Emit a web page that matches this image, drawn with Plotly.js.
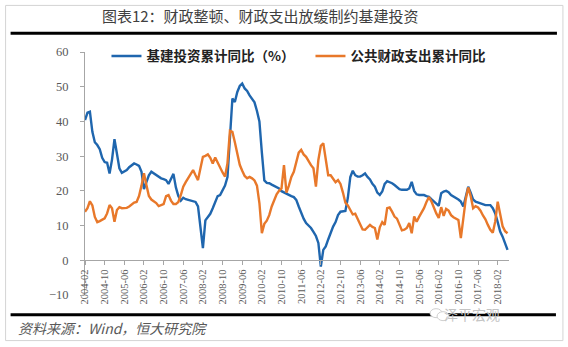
<!DOCTYPE html>
<html>
<head>
<meta charset="utf-8">
<script src="https://cdn.plot.ly/plotly-3.0.1.min.js"></script>
<style>html,body{margin:0;padding:0;background:#fff;}#chart{width:568px;height:347px;}</style>
</head>
<body>
<div id="chart"></div>
<script>
// Monthly categories 2004-02 .. 2018-06
const startYear = 2004, startMonth = 2, endYear = 2018, endMonth = 6;
const months = [];
for (let y = startYear, m = startMonth; y < endYear || (y === endYear && m <= endMonth); ) {
  months.push(y + '-' + String(m).padStart(2, '0'));
  m++; if (m > 12) { m = 1; y++; }
}

const tickLabels = ['2004-02','2004-10','2005-06','2006-02','2006-10','2007-06','2008-02','2008-10',
  '2009-06','2010-02','2010-10','2011-06','2012-02','2012-10','2013-06','2014-02','2014-10',
  '2015-06','2016-02','2016-10','2017-06','2018-02'];

const infraName = '基建投资累计同比（%）';
const fiscalName = '公共财政支出累计同比';

// 基建投资累计同比（%）
const infraYoY = [
  40.4,42.5,42.8,37,34,33.2,32,29.5,28.3,28.1,
  25,29,34.9,30,26.5,25.2,25.5,26,26.8,27.4,
  27.9,27.6,27.2,25.5,20.5,22.5,24.5,25.5,25,24.6,
  24,23.6,23.4,23.1,22,23.5,24.9,21,18.5,17.2,
  18,17.6,17.4,17.3,17.1,16.8,15.5,10,3.5,11.5,
  12.5,13.4,15,17,18.5,18.8,20.3,21.5,24,34,
  46.6,45.6,48.5,50.2,50.9,49.5,48.8,47.5,46.3,45.5,
  43,40,31,23,22.3,22.2,21.8,21.4,21.2,20.7,
  19.9,19.5,19.3,18.9,18.5,18.2,17.4,15.5,13.6,12,
  10.7,10,9.3,8.2,7,5,-1.8,3,4,6,
  8,9.7,11,13,14,14,14.2,18,24,25.8,
  24.5,24.1,24.1,24.5,25,24,23.3,22,21.2,19.5,
  18.8,19.8,22,22.8,22.6,22.2,21.7,21.2,20.5,20.3,
  20.3,20.3,20.7,22.6,20,19,18.8,18.8,18.8,18.5,
  18.3,17.6,17,16.2,15.7,19.3,19.8,20,19.6,18.8,
  18.4,18,17.5,16.9,15.5,18.3,21.2,19.5,17.5,16.9,
  16.6,16.4,16.1,15.9,15.9,15.9,15,13.5,11,8.3,
  6.8,4.9,3
];

// 公共财政支出累计同比
const fiscalYoY = [
  14,15,17,15.8,12.5,11,11.3,11.8,12.1,13.5,
  15.9,15,11.1,14.5,15.3,15,15,15.1,15.5,16.2,
  16.6,16.8,18.5,21.5,25.1,21.7,18.5,17.5,17,16.5,
  15.6,15.8,16.2,18.5,18.8,17.2,16.2,16.2,16.8,18.8,
  21.2,22.5,23.6,25,26,24.5,23.1,26.5,29.8,30.1,
  30.5,29.5,27.9,29.6,28,26.7,25.3,24.1,28,37.3,
  37,34,30.5,27.5,25.8,24.3,23.6,24,23.6,23,
  21.5,16.5,7.8,10.5,11.4,13,15.5,17.5,19,20,
  20.7,27.4,19.5,21.5,24,25.5,28.5,31,31.8,30.5,
  29.8,28.5,27.4,26.5,21.2,28.9,33,33.7,29.5,24.5,
  24.5,23.5,22.5,23.1,22,19.5,16.6,15.8,14.5,13.2,
  13.4,12,10.2,8.9,8.8,9.4,10.2,9.6,9.3,6,
  9.5,11,10.2,15,15.2,14,12.6,12,10.5,8.6,
  8.8,9.3,10.7,7.8,12.6,11.1,12.5,13.8,15,16.8,
  18.2,17,15.2,13.5,12.2,15.3,12.8,14.8,14.3,13,
  12.4,12,11.6,6.4,12.2,17.6,21,18.5,15,15.6,
  15.2,14.3,12.9,11.8,10.2,8.8,7.9,11.2,16.9,12.8,
  9.8,8.4,7.8
];

// pixel helpers for layout decorations
const W = 568, H = 347;
const M = {l: 84.5, r: 59, t: 51.7, b: 51.7};
const pw = W - M.l - M.r, ph = H - M.t - M.b;
const px = x => (x - M.l) / pw;
const py = y => (H - M.b - y) / ph;

const axisGrey = '#a6a6a6';
const tickFont = {family: '"Liberation Serif", "DejaVu Serif", serif', size: 12.5, color: '#595959'};

const traces = [
  {x: months, y: infraYoY, name: infraName, type: 'scatter', mode: 'lines',
   line: {color: '#1f66ae', width: 2.4}},
  {x: months, y: fiscalYoY, name: fiscalName, type: 'scatter', mode: 'lines',
   line: {color: '#e8782a', width: 2.4}}
];

const layout = {
  width: W, height: H,
  margin: M,
  paper_bgcolor: '#ffffff', plot_bgcolor: '#ffffff',
  title: {text: '图表12：财政整顿、财政支出放缓制约基建投资',
    font: {family: '"Noto Sans CJK SC", sans-serif', size: 15, color: '#404040'},
    x: px(260), xref: 'paper', xanchor: 'center', y: 1 - 17 / H, yref: 'container', yanchor: 'middle'},
  showlegend: true,
  legend: {orientation: 'h', x: px(106), y: py(56), xanchor: 'left', yanchor: 'middle',
    bgcolor: 'rgba(0,0,0,0)', borderwidth: 0,
    font: {family: '"Noto Sans CJK SC", sans-serif', size: 13.5, color: '#222', weight: 'bold'},
    entrywidth: 159, entrywidthmode: 'pixels', itemwidth: 30, tracegroupgap: 0},
  xaxis: {type: 'category', categoryorder: 'array', categoryarray: months,
    range: [0, 172.6], anchor: 'free', position: 10 / 70,
    tickmode: 'array', tickvals: tickLabels, ticktext: tickLabels,
    tickangle: -90, tickfont: {family: '"Liberation Serif", "DejaVu Serif", serif', size: 10.5, color: '#595959'},
    showline: true, linecolor: axisGrey, linewidth: 1,
    ticks: 'outside', ticklen: 4, tickcolor: axisGrey, showgrid: false, zeroline: false},
  yaxis: {range: [-10, 60], dtick: 10, tick0: 0, showgrid: false, zeroline: false,
    showline: true, linecolor: axisGrey, linewidth: 1,
    ticks: 'outside', ticklen: 4, tickcolor: axisGrey, tickfont: tickFont, ticklabelstandoff: 9},
  shapes: [
    {type: 'rect', xref: 'paper', yref: 'paper', x0: px(5), x1: px(563), y0: py(5), y1: py(341),
     line: {color: '#d4d4d4', width: 1}, layer: 'below'},
    {type: 'line', xref: 'paper', yref: 'paper', x0: px(10), x1: px(557), y0: py(33), y1: py(33),
     line: {color: '#000', width: 3}},
    {type: 'line', xref: 'paper', yref: 'paper', x0: px(10), x1: px(556), y0: py(315), y1: py(315),
     line: {color: '#000', width: 3}},
    {type: 'circle', xref: 'paper', yref: 'paper', x0: px(430), x1: px(442), y0: py(309), y1: py(318),
     line: {color: '#cfcfcf', width: 1}, fillcolor: '#ffffff'},
    {type: 'circle', xref: 'paper', yref: 'paper', x0: px(437), x1: px(449), y0: py(312), y1: py(321),
     line: {color: '#cfcfcf', width: 1}, fillcolor: '#ffffff'}
  ],
  annotations: [
    {text: '资料来源：Wind，恒大研究院', xref: 'paper', yref: 'paper', x: px(15), y: py(328),
     xanchor: 'left', yanchor: 'middle', showarrow: false,
     font: {family: '"Noto Sans CJK SC", sans-serif', size: 14, color: '#595959', style: 'italic'}},
    {text: '泽平宏观', xref: 'paper', yref: 'paper', x: px(502), y: py(314),
     xanchor: 'right', yanchor: 'middle', showarrow: false,
     font: {family: '"Noto Sans CJK SC", sans-serif', size: 14, color: '#c4c4c4'}}
  ]
};

Plotly.newPlot('chart', traces, layout, {displayModeBar: false, staticPlot: true});
</script>
</body>
</html>
